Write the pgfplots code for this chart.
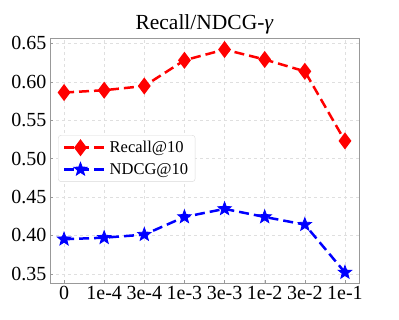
\documentclass[border=0pt]{standalone}
\usepackage{fontspec}
\setmainfont{Liberation Serif}
\usepackage{pgfplots}
\pgfplotsset{compat=1.18}
\pgfdeclareplotmark{fstar}{%
  \pgfpathmoveto{\pgfqpointpolar{90}{\pgfplotmarksize}}%
  \pgfpathlineto{\pgfqpointpolar{126}{0.42\pgfplotmarksize}}%
  \pgfpathlineto{\pgfqpointpolar{162}{\pgfplotmarksize}}%
  \pgfpathlineto{\pgfqpointpolar{198}{0.42\pgfplotmarksize}}%
  \pgfpathlineto{\pgfqpointpolar{234}{\pgfplotmarksize}}%
  \pgfpathlineto{\pgfqpointpolar{270}{0.42\pgfplotmarksize}}%
  \pgfpathlineto{\pgfqpointpolar{306}{\pgfplotmarksize}}%
  \pgfpathlineto{\pgfqpointpolar{342}{0.42\pgfplotmarksize}}%
  \pgfpathlineto{\pgfqpointpolar{18}{\pgfplotmarksize}}%
  \pgfpathlineto{\pgfqpointpolar{54}{0.42\pgfplotmarksize}}%
  \pgfpathclose
  \pgfusepathqfillstroke}
\begin{document}
\begin{tikzpicture}
\path[use as bounding box] (0,0) rectangle (399pt,319pt);
\begin{axis}[
  at={(50pt,36pt)}, anchor=south west,
  scale only axis, width=309pt, height=245pt,
  xmin=-0.35, xmax=7.35, ymin=0.338, ymax=0.657,
  xtick={0,...,7},
  xticklabels={0,1e-4,3e-4,1e-3,3e-3,1e-2,3e-2,1e-1},
  ytick={0.35,0.40,...,0.65},
  yticklabel style={/pgf/number format/.cd,fixed,fixed zerofill,precision=2},
  /pgf/number format/assume math mode=true,
  tick label style={font=\fontsize{20}{20}\selectfont},
  grid=major,
  major grid style={gray!25, dashed, line width=0.5pt},
  axis line style={gray!80, line width=0.8pt},
  tick style={gray!80},
  major tick length=3pt,
  xtick pos=bottom, ytick pos=left,
  title={Recall/NDCG-\textit{γ}},
  title style={font=\fontsize{21.5}{21.5}\selectfont, yshift=-6pt},
  legend style={at={(0.026,0.604)}, anchor=north west, draw=gray!30, rounded corners=3pt,
    font=\fontsize{16.5}{16.5}\selectfont, row sep=5pt, inner xsep=5pt, inner ysep=4pt},
  legend cell align=left,
  legend image code/.code={\path (0pt,0pt) -- (42pt,0pt); \draw[#1] (0pt,0pt) -- (16pt,0pt) -- (32pt,0pt); \draw[#1,solid] plot coordinates {(16pt,0pt)};},
]
\addplot[red, line width=2.5pt, dash pattern=on 10pt off 5pt, mark=diamond*, mark size=6.5pt, mark options={solid, fill=red}]
  coordinates {(0,0.586) (1,0.589) (2,0.5945) (3,0.628) (4,0.642) (5,0.629) (6,0.6136) (7,0.523)};
\addlegendentry{Recall@10}
\addplot[blue, line width=2.5pt, dash pattern=on 10pt off 5pt, mark=fstar, mark size=7pt, mark options={solid, fill=blue, line width=0.8pt}]
  coordinates {(0,0.395) (1,0.397) (2,0.401) (3,0.424) (4,0.4345) (5,0.424) (6,0.414) (7,0.3517)};
\addlegendentry{NDCG@10}
\end{axis}
\end{tikzpicture}
\end{document}
